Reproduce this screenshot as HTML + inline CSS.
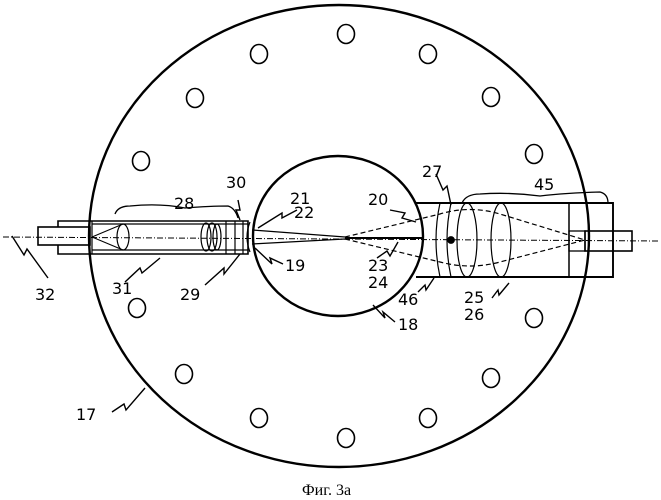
<!DOCTYPE html>
<html><head><meta charset="utf-8"><style>
html,body{margin:0;padding:0;background:#fff;}
svg{display:block;}
text{font-family:"DejaVu Sans","Liberation Sans",sans-serif;font-size:16px;fill:#000;}
</style></head><body>
<svg width="661" height="500" viewBox="0 0 661 500" xmlns="http://www.w3.org/2000/svg">
<g fill="none" stroke="#000" stroke-width="1.8">
<ellipse cx="339" cy="236" rx="250" ry="231" stroke-width="2.4"/>
<ellipse cx="338" cy="236" rx="85" ry="80" stroke-width="2.4"/>
<g stroke-width="1.6">
<ellipse cx="346" cy="34" rx="8.5" ry="9.5"/>
<ellipse cx="259" cy="54" rx="8.5" ry="9.5"/>
<ellipse cx="428" cy="54" rx="8.5" ry="9.5"/>
<ellipse cx="195" cy="98" rx="8.5" ry="9.5"/>
<ellipse cx="491" cy="97" rx="8.5" ry="9.5"/>
<ellipse cx="141" cy="161" rx="8.5" ry="9.5"/>
<ellipse cx="534" cy="154" rx="8.5" ry="9.5"/>
<ellipse cx="137" cy="308" rx="8.5" ry="9.5"/>
<ellipse cx="534" cy="318" rx="8.5" ry="9.5"/>
<ellipse cx="184" cy="374" rx="8.5" ry="9.5"/>
<ellipse cx="491" cy="378" rx="8.5" ry="9.5"/>
<ellipse cx="259" cy="418" rx="8.5" ry="9.5"/>
<ellipse cx="428" cy="418" rx="8.5" ry="9.5"/>
<ellipse cx="346" cy="438" rx="8.5" ry="9.5"/>
</g>
<rect x="38" y="227" width="52" height="18" stroke-width="1.6"/>
<path d="M58 227 V221 H248 V254 H58 V245" stroke-width="1.6"/>
<line x1="92" y1="224" x2="248" y2="224" stroke-width="1.2"/>
<line x1="92" y1="250" x2="248" y2="250" stroke-width="1.2"/>
<line x1="92" y1="221" x2="92" y2="254" stroke-width="1.2"/>
<path d="M92 237 L123 224 M92 237 L123 250" stroke-width="1"/>
<ellipse cx="123" cy="237" rx="6" ry="13" stroke-width="1.2"/>
<ellipse cx="206" cy="237" rx="5" ry="14" stroke-width="1.2"/>
<ellipse cx="212" cy="237" rx="5" ry="14" stroke-width="1.2"/>
<ellipse cx="217" cy="237" rx="4" ry="13" stroke-width="1.2"/>
<path d="M226 221 V254 M235 221 V254 M243 221 V254" stroke-width="1.2"/>
<path d="M250 222 Q244 237 250 252" stroke-width="1.2"/>
<path d="M252 230 L345 237 M252 244 L345 239" stroke-width="1.2"/>
<path d="M345 238 L422 238" stroke-width="2"/>
<path d="M345 237 L440 214 Q470 205 500 214 L585 240 M345 239 L440 262 Q470 270 500 262 L585 240" stroke-width="1.2" stroke-dasharray="5,3"/>
<path d="M416 203 H613 V277 H416" stroke-width="1.9"/>
<line x1="569" y1="203" x2="569" y2="277" stroke-width="1.5"/>
<rect x="569" y="231" width="16" height="20" stroke-width="1.3"/>
<rect x="585" y="231" width="47" height="20" stroke-width="1.6"/>
<path d="M440 203 Q432 240 440 277 M451 203 Q443 240 451 277" stroke-width="1.2"/>
<ellipse cx="467" cy="240" rx="10" ry="37" stroke-width="1.2"/>
<ellipse cx="501" cy="240" rx="10" ry="37" stroke-width="1.2"/>
<circle cx="451" cy="240" r="3" fill="#000"/>
<line x1="3" y1="237" x2="658" y2="241" stroke-width="1" stroke-dasharray="6,2,1,2"/>
<path d="M115 214 Q118 206 130 206 Q160 203 185 208 Q210 206 228 206 Q235 208 238 218" stroke-width="1.3"/>
<path d="M462 203 Q466 194 480 194 Q510 192 540 196 Q565 193 600 192 Q608 194 608 203" stroke-width="1.3"/>
<g stroke-width="1.4">
<path d="M12 236 L24 255 L27 249 L48 278"/>
<path d="M125 282 L140 268 L142 273 L160 258"/>
<path d="M205 285 L224 268 L224 274 L240 254"/>
<path d="M238 200 L240 210 L236 210 L240 220"/>
<path d="M283 264 L270 258 L272 264 L255 248"/>
<path d="M297 210 L282 218 L282 213 L258 228"/>
<path d="M390 210 L405 213 L402 218 L416 222"/>
<path d="M436 174 L443 190 L447 186 L451 205"/>
<path d="M377 258 L387 251 L390 256 L398 242"/>
<path d="M418 292 L425 285 L426 290 L434 278"/>
<path d="M492 298 L498 290 L499 295 L509 283"/>
<path d="M395 322 L383 312 L385 318 L373 305"/>
<path d="M112 412 L124 404 L126 410 L145 388"/>
</g>
</g>
<text x="174" y="209">28</text>
<text x="226" y="188">30</text>
<text x="290" y="204" font-size="14">21</text>
<text x="294" y="218" font-size="14">22</text>
<text x="285" y="271">19</text>
<text x="112" y="294">31</text>
<text x="35" y="300">32</text>
<text x="180" y="300">29</text>
<text x="368" y="205">20</text>
<text x="422" y="177">27</text>
<text x="534" y="190">45</text>
<text x="368" y="271" font-size="14">23</text>
<text x="368" y="288">24</text>
<text x="398" y="305" font-size="14">46</text>
<text x="464" y="303">25</text>
<text x="464" y="320">26</text>
<text x="398" y="330">18</text>
<text x="76" y="420">17</text>
<text x="302" y="495" style="font-family:'Liberation Serif',serif;font-size:16px">Фиг. 3а</text>
</svg>
</body></html>
